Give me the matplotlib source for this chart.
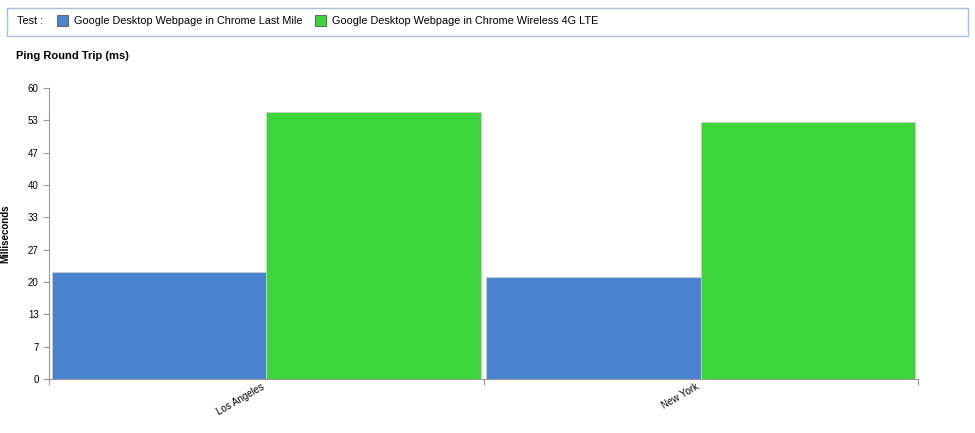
import matplotlib
matplotlib.use("Agg")
import matplotlib.pyplot as plt
from matplotlib.patches import Rectangle
import numpy as np

plt.rcParams['font.family'] = ['Liberation Sans', 'DejaVu Sans']

categories = ["Los Angeles", "New York"]
series_names = ["Google Desktop Webpage in Chrome Last Mile",
                "Google Desktop Webpage in Chrome Wireless 4G LTE"]
last_mile = [22, 21]
lte = [55, 53]
yticks = [0, 6.67, 13.33, 20, 26.67, 33.33, 40, 46.67, 53.33, 60]
ytick_labels = ["0", "7", "13", "20", "27", "33", "40", "47", "53", "60"]
colors = ["#4a84cf", "#3dd63a"]

W, H = 975, 433
fig = plt.figure(figsize=(W/100, H/100), dpi=100)
ax = fig.add_axes([49/W, 1-379/H, (918-49)/W, (379-88)/H])

x = np.arange(len(categories))
bw = 0.494
ax.bar(x - bw/2, last_mile, bw, color=colors[0], edgecolor='#d0d0d0', linewidth=0.5)
ax.bar(x + bw/2, lte, bw, color=colors[1], edgecolor='#d0d0d0', linewidth=0.5)
ax.set_xlim(-0.5, 1.5)
ax.set_ylim(0, 60)
ax.set_yticks(yticks)
ax.set_yticklabels(ytick_labels, fontsize=7)
ax.set_xticks([-0.5, 0.5, 1.5])
ax.set_xticklabels([])
ax.set_xticks(x, minor=True)
ax.set_xticklabels(categories, minor=True, rotation=30, ha='right', fontsize=7)
ax.tick_params(axis='x', which='minor', length=0, pad=2)
ax.tick_params(axis='both', which='major', color='#999999', length=4)
for s in ['top', 'right']:
    ax.spines[s].set_visible(False)
for s in ['left', 'bottom']:
    ax.spines[s].set_color('#999999')
ax.set_ylabel("Milliseconds", fontsize=7, fontweight='bold')
ax.yaxis.set_label_coords(-39/(918-49), 0.5)

fig.text(16/W, 1-56/H, "Ping Round Trip (ms)", fontsize=8, fontweight='bold', va='center')

# legend box
fig.patches.append(Rectangle((7/W, 1-36/H), (968-7)/W, 28/H, transform=fig.transFigure,
                             facecolor='white', edgecolor='#a9bfd6', linewidth=1))
ly = 1-21/H
fig.text(17/W, ly, "Test :", fontsize=7.8, va='center')
for px, name, c in [(57, series_names[0], colors[0]), (315, series_names[1], colors[1])]:
    fig.patches.append(Rectangle((px/W, 1-26/H), 11/W, 11/H, transform=fig.transFigure,
                                 facecolor=c, edgecolor='#555555', linewidth=0.6))
    fig.text((px+17)/W, ly, name, fontsize=7.8, va='center')

fig.savefig("out.png", dpi=100)
